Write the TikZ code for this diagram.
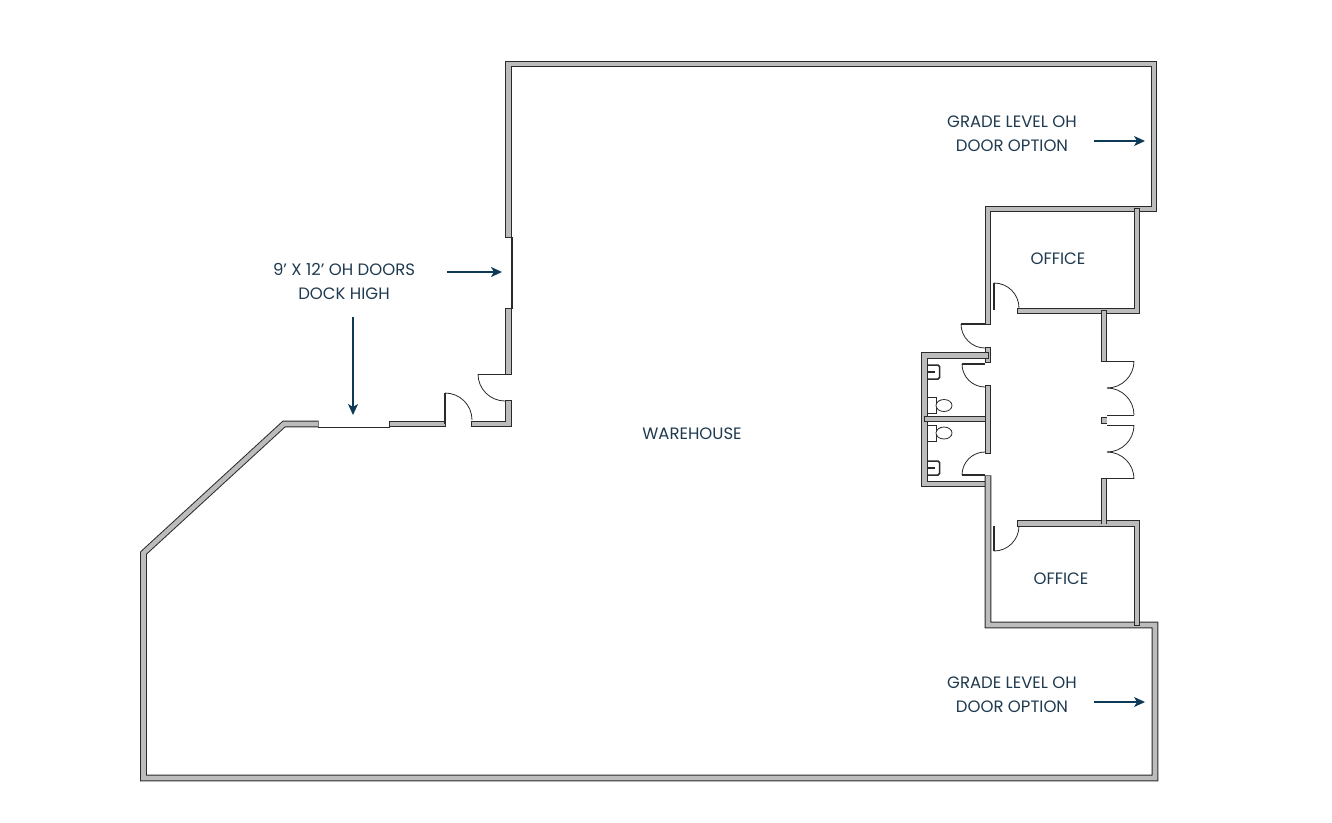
\documentclass[tikz,border=0pt]{standalone}
\usepackage{fontspec}
\setmainfont{Poppins}
\usepackage{xcolor}
\usetikzlibrary{arrows.meta}
\definecolor{wallgray}{HTML}{BCBCBC}
\definecolor{wallline}{HTML}{2A2A2A}
\definecolor{labelnavy}{HTML}{1F3A4F}
\definecolor{arrownavy}{HTML}{0D3A57}
\tikzset{
  wallout/.style={line width=6.6pt,wallline,miter limit=10,shorten >=-0.6pt,shorten <=-0.6pt},
  wallin/.style={line width=4.6pt,wallgray,miter limit=10},
  swing/.style={line width=0.8pt,wallline},
  leaf/.style={line width=1.5pt,wallline},
  fixture/.style={line width=0.8pt,wallline,fill=white},
  roomlabel/.style={text=labelnavy,font=\fontsize{16.5pt}{24pt}\selectfont,align=center,inner sep=0pt},
  callout/.style={arrownavy,line width=1.5pt,-{Stealth[length=11pt,width=10pt,inset=3pt]}}
}
\newcommand{\wallrun}[1]{\draw[wallout] #1; \draw[wallin] #1;}
\begin{document}
\begin{tikzpicture}[x=1pt,y=-1pt]
\useasboundingbox (0,0) rectangle (1332,822);
\wallrun{(508.5,237) -- (508.5,64) -- (1154,64) -- (1154,209) -- (988,209) -- (988,324)}
\wallrun{(1137,209) -- (1137,311) -- (1018,311)}
\wallrun{(1104,311) -- (1104,361)}
\wallrun{(988,348) -- (988,362)}
\wallrun{(988,355.5) -- (924.5,355.5) -- (924.5,484) -- (988,484)}
\wallrun{(924.5,419) -- (988,419)}
\wallrun{(988,386) -- (988,453)}
\wallrun{(988,476) -- (988,625) -- (1155,625) -- (1155,778) -- (143.5,778) -- (143.5,553) -- (284,424) -- (318,424)}
\wallrun{(1018,523.5) -- (1137,523.5) -- (1137,625)}
\wallrun{(1104,479) -- (1104,523.5)}
\wallrun{(1101.5,420.5) -- (1106.5,420.5)}
\wallrun{(390,424) -- (445,424)}
\wallrun{(472,424) -- (508.5,424) -- (508.5,401)}
\wallrun{(508.5,374) -- (508.5,309)}
\draw[leaf] (512,237) -- (512,309);
\draw[leaf] (318,427.3) -- (390,427.3);
\draw[leaf] (445,393) -- (445,424);
\draw[leaf] (478,374.5) -- (506,374.5);
\draw[leaf] (994,283) -- (994,310);
\draw[leaf] (994,526) -- (994,551);
\draw[leaf] (961,324) -- (985,324);
\draw[leaf] (962,364) -- (985,364);
\draw[leaf] (962,475) -- (985,475);
\draw[leaf] (1107,361.5) -- (1134,361.5);
\draw[leaf] (1107,425.5) -- (1134,425.5);
\draw[swing] (1107,415) -- (1134,415);
\draw[leaf] (1107,478.5) -- (1134,478.5);
\foreach \sx/\sy/\sa/\ea/\rad in {994/283/-90/0/25, 994/551/90/0/25, 961/324/180/90/24, 962/364/180/90/23, 962/475/180/270/23, 1134/361/0/90/27, 1107/388/-90/0/27, 1134/425/0/90/27, 1107/452/-90/0/27, 445/393/-90/0/27, 478/374/180/90/27}
  \draw[swing] (\sx,\sy) arc[start angle=\sa,end angle=\ea,radius=\rad];
\foreach \ty in {397,425}
  \draw[fixture] (927.5,\ty) rectangle (936,\ty+16);
\foreach \ty in {405.5,433}
  \draw[fixture] (944,\ty) ellipse (8 and 6);
\foreach \ty in {365,461}
  \draw[leaf,rounded corners=1.5pt] (927.5,\ty) -- (939.5,\ty) -- (939.5,\ty+14) -- (927.5,\ty+14);
\draw[leaf] (927.5,372) -- (934.5,372);
\draw[leaf] (927.5,468) -- (934.5,468);
\node[roomlabel] (warehouse) at (692,434) {WAREHOUSE};
\node[roomlabel] (officetop) at (1058,259) {OFFICE};
\node[roomlabel] (officebottom) at (1061,579) {OFFICE};
\node[roomlabel] (gradetop) at (1012,134) {GRADE LEVEL OH\\DOOR OPTION};
\node[roomlabel] (gradebottom) at (1012,695) {GRADE LEVEL OH\\DOOR OPTION};
\node[roomlabel] (dock) at (344,281) {9’ X 12’ OH DOORS\\DOCK HIGH};
\coordinate (gradetopstart) at (1094,141);
\coordinate (gradetoptip) at (1145,141);
\coordinate (gradebottomstart) at (1094,702);
\coordinate (gradebottomtip) at (1145,702);
\coordinate (dockrightstart) at (447,272);
\coordinate (dockrighttip) at (502,272);
\coordinate (dockdownstart) at (353,317);
\coordinate (dockdowntip) at (353,415);
\draw[callout] (gradetopstart) -- (gradetoptip);
\draw[callout] (gradebottomstart) -- (gradebottomtip);
\draw[callout] (dockrightstart) -- (dockrighttip);
\draw[callout] (dockdownstart) -- (dockdowntip);
\end{tikzpicture}
\end{document}
